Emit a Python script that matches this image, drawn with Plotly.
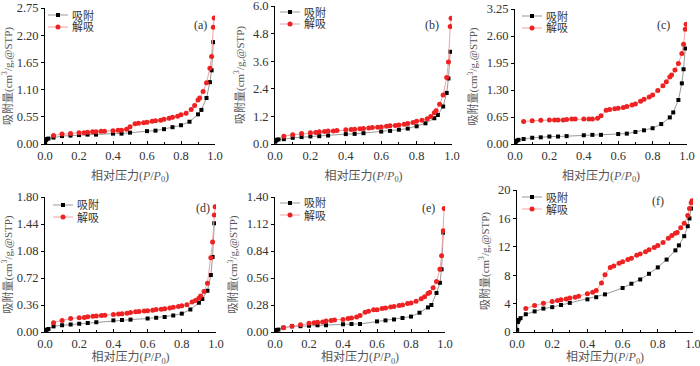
import plotly.graph_objects as go
from plotly.subplots import make_subplots

# relative pressure points (P/P0)
p_ads = [0.001, 0.005, 0.01, 0.02, 0.05, 0.1, 0.15, 0.2, 0.25, 0.3, 0.4, 0.45, 0.5,
         0.6, 0.65, 0.7, 0.75, 0.8, 0.85, 0.9, 0.92, 0.95, 0.97, 0.98, 0.99]
p_des = [0.995, 0.99, 0.98, 0.97, 0.95, 0.93, 0.91, 0.90, 0.88, 0.86, 0.83, 0.80, 0.78,
         0.75, 0.73, 0.70, 0.68, 0.65, 0.63, 0.60, 0.58, 0.55, 0.53, 0.50, 0.48, 0.45,
         0.43, 0.40, 0.35, 0.33, 0.30, 0.28, 0.25, 0.23, 0.20, 0.15, 0.10, 0.05]

# (a)
ads_a = [0.04, 0.08, 0.10, 0.11, 0.13, 0.16, 0.17, 0.18, 0.19, 0.19, 0.21, 0.21, 0.23,
         0.26, 0.27, 0.30, 0.34, 0.38, 0.45, 0.60, 0.69, 0.93, 1.25, 1.49, 2.06]
des_a = [2.55, 2.36, 1.77, 1.53, 1.24, 1.06, 0.93, 0.89, 0.78, 0.70, 0.62, 0.59, 0.56,
         0.54, 0.52, 0.50, 0.48, 0.47, 0.46, 0.44, 0.43, 0.42, 0.41, 0.35, 0.30, 0.28,
         0.28, 0.27, 0.26, 0.26, 0.25, 0.25, 0.24, 0.23, 0.23, 0.21, 0.20, 0.17]
# (b)
ads_b = [0.10, 0.15, 0.18, 0.20, 0.21, 0.27, 0.30, 0.33, 0.34, 0.37, 0.43, 0.44, 0.47,
         0.54, 0.57, 0.62, 0.67, 0.77, 0.90, 1.12, 1.26, 1.63, 2.22, 2.85, 4.01]
des_b = [5.47, 5.11, 3.57, 2.89, 2.13, 1.73, 1.45, 1.36, 1.20, 1.10, 1.03, 0.99, 0.93,
         0.89, 0.86, 0.83, 0.80, 0.79, 0.77, 0.74, 0.73, 0.72, 0.70, 0.67, 0.66, 0.64,
         0.63, 0.62, 0.59, 0.57, 0.56, 0.54, 0.53, 0.50, 0.49, 0.46, 0.40, 0.34]
# (c)
ads_c = [0.04, 0.06, 0.08, 0.10, 0.12, 0.15, 0.16, 0.18, 0.18, 0.19, 0.21, 0.22, 0.22,
         0.24, 0.25, 0.29, 0.33, 0.38, 0.48, 0.64, 0.76, 1.06, 1.46, 1.80, 2.30]
des_c = [2.88, 2.76, 2.40, 2.18, 1.94, 1.78, 1.66, 1.61, 1.50, 1.40, 1.29, 1.18, 1.13,
         1.08, 1.03, 0.96, 0.94, 0.90, 0.88, 0.86, 0.85, 0.83, 0.81, 0.68, 0.62, 0.60,
         0.60, 0.60, 0.60, 0.60, 0.59, 0.58, 0.58, 0.58, 0.58, 0.57, 0.56, 0.54]
# (d)
ads_d = [0.01, 0.02, 0.03, 0.04, 0.075, 0.09, 0.10, 0.11, 0.12, 0.13, 0.155, 0.16, 0.165,
         0.18, 0.19, 0.20, 0.22, 0.245, 0.30, 0.39, 0.44, 0.55, 0.76, 1.00, 1.45]
des_d = [1.67, 1.56, 1.20, 0.99, 0.65, 0.54, 0.48, 0.45, 0.42, 0.40, 0.365, 0.35, 0.34,
         0.33, 0.32, 0.31, 0.305, 0.30, 0.29, 0.285, 0.28, 0.275, 0.27, 0.26, 0.25, 0.245,
         0.24, 0.235, 0.225, 0.22, 0.215, 0.21, 0.205, 0.195, 0.19, 0.18, 0.155, 0.125]
# (e)
ads_e = [0.01, 0.015, 0.02, 0.025, 0.045, 0.06, 0.06, 0.065, 0.07, 0.07, 0.08, 0.083, 0.083,
         0.11, 0.12, 0.13, 0.145, 0.16, 0.20, 0.255, 0.28, 0.405, 0.51, 0.65, 1.03]
des_e = [1.28, 1.05, 0.79, 0.65, 0.525, 0.46, 0.41, 0.40, 0.365, 0.345, 0.32, 0.30, 0.295,
         0.28, 0.275, 0.265, 0.26, 0.25, 0.245, 0.23, 0.23, 0.215, 0.205, 0.17, 0.155, 0.145,
         0.14, 0.13, 0.125, 0.12, 0.115, 0.105, 0.10, 0.095, 0.09, 0.075, 0.06, 0.045]
# (f)
ads_f = [0.3, 1.4, 1.7, 1.95, 2.5, 2.9, 3.3, 3.5, 3.8, 4.1, 4.6, 4.9, 5.3,
         6.2, 6.8, 7.4, 8.2, 9.1, 10.2, 11.5, 12.2, 13.5, 14.9, 16.0, 17.4]
des_f = [18.5, 18.2, 17.4, 16.4, 15.3, 14.7, 14.0, 13.9, 13.6, 13.2, 12.6, 12.2, 11.9,
         11.6, 11.3, 11.0, 10.8, 10.4, 10.2, 9.9, 9.7, 9.3, 9.1, 8.05, 6.9, 5.85,
         5.6, 5.4, 5.05, 4.9, 4.8, 4.65, 4.55, 4.45, 4.3, 4.05, 3.75, 3.3]

series_names = ["吸附", "解吸"]
panel_labels = ["(a)", "(b)", "(c)", "(d)", "(e)", "(f)"]
y_max = [2.75, 6.0, 3.25, 1.8, 1.4, 20]
y_dtick = [0.55, 1.2, 0.65, 0.36, 0.28, 4]
y_fmt = [".2f", ".1f", ".2f", ".2f", ".2f", "d"]
ads_all = [ads_a, ads_b, ads_c, ads_d, ads_e, ads_f]
des_all = [des_a, des_b, des_c, des_d, des_e, des_f]

W, H = 700, 366
# plot-area pixel boxes (x0, x1, ytop, ybottom)
boxes = [(45, 215, 8, 144), (275, 452, 6, 144), (515, 687, 9, 144),
         (45, 216, 197, 332), (275, 445, 197, 332), (517, 693, 190, 332)]
# panel label centres (px)
label_pos = [(192, 16), (432, 16), (672, 16), (194, 208), (428, 208), (666, 201)]
# legend: start of sample line, first row centre (px)
legend_pos = [(48, 15), (280, 12), (522, 16), (53, 205), (280, 203), (522, 197)]

serif = "Liberation Serif, Noto Sans CJK SC"
txt = "#333333"
ads_style = dict(line="#999999", marker="black", symbol="rect", size=4)
des_style = dict(line="#f4a0a0", marker="#ee2222", symbol="circle", size=5)


def px(x):
    return x / W


def py(y):
    return 1 - y / H


fig = make_subplots(rows=2, cols=3)
for i in range(6):
    r, c = i // 3 + 1, i % 3 + 1
    fig.add_trace(go.Scatter(x=p_ads, y=ads_all[i], name=series_names[0], mode="lines+markers",
                             line=dict(color=ads_style["line"], width=1),
                             marker=dict(symbol="square", size=4, color=ads_style["marker"]),
                             showlegend=False), row=r, col=c)
    fig.add_trace(go.Scatter(x=p_des, y=des_all[i], name=series_names[1], mode="lines+markers",
                             line=dict(color=des_style["line"], width=1),
                             marker=dict(symbol="circle", size=5, color=des_style["marker"]),
                             showlegend=False), row=r, col=c)

    x0, x1, yt, yb = boxes[i]
    xa = "xaxis" if i == 0 else "xaxis%d" % (i + 1)
    ya = "yaxis" if i == 0 else "yaxis%d" % (i + 1)
    fig.layout[xa].update(
        domain=[px(x0), px(x1)], range=[0, 1.0], tickvals=[0, 0.2, 0.4, 0.6, 0.8, 1.0],
        tickformat=".1f", ticks="inside", ticklen=3, tickcolor="black",
        minor=dict(dtick=0.1, ticks="inside", ticklen=2, tickcolor="black"),
        showline=True, linecolor="black", linewidth=1, showgrid=False, zeroline=False,
        tickfont=dict(family=serif, size=12.5, color=txt), automargin=False,
        ticklabeloverflow="allow",
        title=dict(text="相对压力(<i>P</i>/<i>P</i><sub>0</sub>)", standoff=9,
                   font=dict(family=serif, size=12, color="#555555")))
    fig.layout[ya].update(
        domain=[py(yb), py(yt)], range=[0, y_max[i]], dtick=y_dtick[i], tick0=0,
        tickformat=y_fmt[i], ticks="outside", ticklen=3, tickcolor="black",
        showline=True, linecolor="black", linewidth=1, showgrid=False, zeroline=False,
        tickfont=dict(family=serif, size=12.5, color=txt), automargin=False,
        ticklabeloverflow="allow",
        title=dict(text="吸附量(cm<sup>3</sup>/g,@STP)", standoff=6,
                   font=dict(family=serif, size=11, color="#555555")))

    lx, ly = label_pos[i]
    fig.add_annotation(text=panel_labels[i], xref="paper", yref="paper",
                       x=px(lx), y=py(ly), showarrow=False,
                       font=dict(family=serif, size=12, color=txt))

    # hand-drawn legend, compact like the original
    gx, gy = legend_pos[i]
    for k, st in enumerate([ads_style, des_style]):
        yy = gy + 12 * k
        fig.add_shape(type="line", xref="paper", yref="paper",
                      x0=px(gx), x1=px(gx + 20), y0=py(yy), y1=py(yy),
                      line=dict(color=st["line"], width=1))
        h = st["size"] / 2
        fig.add_shape(type="rect" if st["symbol"] == "rect" else "circle",
                      xref="paper", yref="paper",
                      x0=px(gx + 10 - h), x1=px(gx + 10 + h), y0=py(yy + h), y1=py(yy - h),
                      fillcolor=st["marker"], line=dict(width=0))
        fig.add_annotation(text=series_names[k], xref="paper", yref="paper",
                           x=px(gx + 22), y=py(yy), xanchor="left", yanchor="middle",
                           showarrow=False, font=dict(family=serif, size=11, color=txt))

fig.update_layout(width=W, height=H, margin=dict(l=0, r=0, t=0, b=0),
                  plot_bgcolor="white", paper_bgcolor="white", showlegend=False)
fig.write_html("out.html", config={"displayModeBar": False},
               post_script="document.body.style.margin='0';")
